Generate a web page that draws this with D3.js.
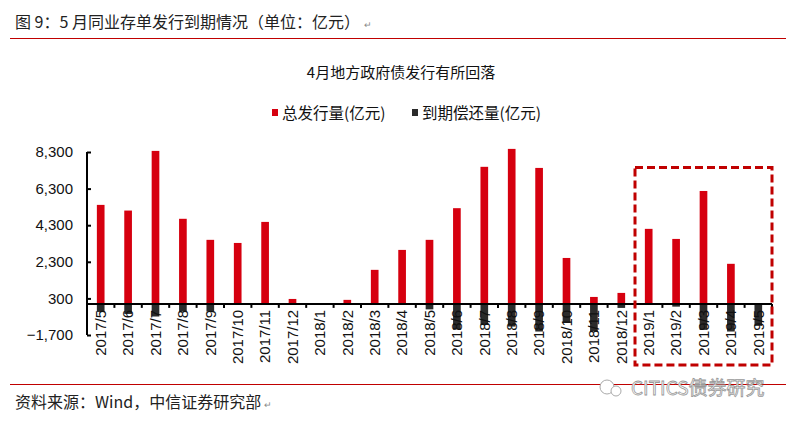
<!DOCTYPE html>
<html>
<head>
<meta charset="utf-8">
<script src="https://cdn.jsdelivr.net/npm/d3@7"></script>
<style>
  body { margin: 0; background: #fff; }
  svg { display: block; font-family: "Liberation Sans", Arial, "Noto Sans CJK SC", sans-serif; }
</style>
</head>
<body>
<svg width="796" height="422"></svg>
<script>
// Data
const months = ["2017/5", "2017/6", "2017/7", "2017/8", "2017/9", "2017/10", "2017/11", "2017/12",
  "2018/1", "2018/2", "2018/3", "2018/4", "2018/5", "2018/6", "2018/7", "2018/8", "2018/9",
  "2018/10", "2018/11", "2018/12", "2019/1", "2019/2", "2019/3", "2019/4", "2019/5"];
const issuance = [5410, 5100, 8360, 4650, 3500, 3330, 4480, 270,
  0, 220, 1860, 2950, 3500, 5230, 7490, 8470, 7430,
  2510, 380, 600, 4100, 3550, 6170, 2190, 0];
const maturity = [-440, -550, -690, -420, -420, 0, 0, 0,
  0, 0, 0, 0, -300, -1400, -1150, -1240, -1510,
  -1040, -1500, -220, 0, -150, -1420, -1510, -1200];
const yTicks = [-1700, 300, 2300, 4300, 6300, 8300];
const seriesNames = ["总发行量(亿元)", "到期偿还量(亿元)"];
const highlight = ["2019/1", "2019/5"];

const svg = d3.select("svg");
const red = "#d6000f";
const dark = "#2b2b2b";
const cjk = "'Noto Sans CJK SC', 'Liberation Sans', sans-serif";

// header / footer
const header = svg.append("text")
    .attr("x", 15).attr("y", 28)
    .attr("font-family", cjk).attr("font-size", 16).attr("fill", "#222")
    .text("图 9：5 月同业存单发行到期情况（单位：亿元）");
svg.append("text")
    .attr("x", 15 + header.node().getComputedTextLength() + 4).attr("y", 28)
    .attr("font-size", 9).attr("fill", "#888")
    .text("↵");
svg.append("line")
    .attr("x1", 10).attr("x2", 786).attr("y1", 38.5).attr("y2", 38.5)
    .attr("stroke", "#c00000").attr("stroke-width", 1);
svg.append("line")
    .attr("x1", 10).attr("x2", 786).attr("y1", 384.5).attr("y2", 384.5)
    .attr("stroke", "#c00000").attr("stroke-width", 1);
const footer = svg.append("text")
    .attr("x", 15).attr("y", 408)
    .attr("font-family", cjk).attr("font-size", 16).attr("fill", "#222")
    .text("资料来源：Wind，中信证券研究部");
svg.append("text")
    .attr("x", 15 + footer.node().getComputedTextLength() + 3).attr("y", 408)
    .attr("font-size", 9).attr("fill", "#888")
    .text("↵");

// watermark
const wm = svg.append("g").attr("transform", "translate(607,387)");
wm.append("circle").attr("cx", 0).attr("cy", 0).attr("r", 7)
    .attr("fill", "#fff").attr("stroke", "#aaa");
wm.append("circle").attr("cx", 9).attr("cy", 4).attr("r", 5)
    .attr("fill", "#fff").attr("stroke", "#aaa");
wm.append("text")
    .attr("x", 24).attr("y", 8)
    .attr("font-family", cjk).attr("font-size", 19)
    .attr("fill", "#fff").attr("stroke", "#999").attr("stroke-width", 0.8)
    .text("CITICS债券研究");

// chart title + legend
svg.append("text")
    .attr("x", 401).attr("y", 78)
    .attr("text-anchor", "middle")
    .attr("font-family", cjk).attr("font-size", 15).attr("fill", "#111")
    .text("4月地方政府债发行有所回落");

const legend = svg.append("g");
const legendX = [272, 412];
[red, dark].forEach((c, i) => {
    legend.append("rect")
        .attr("x", legendX[i]).attr("y", 109).attr("width", 6).attr("height", 7)
        .attr("fill", c);
    legend.append("text")
        .attr("x", legendX[i] + 10).attr("y", 119)
        .attr("font-family", cjk).attr("font-size", 15.5).attr("fill", "#111")
        .text(seriesNames[i]);
});

// scales
const x = d3.scaleBand().domain(months).range([87, 772]).paddingInner(0.72).paddingOuter(0.36);
const band = d3.scaleBand().domain(months).range([87, 772]);
const y = d3.scaleLinear().domain([-1700, 8300]).range([335, 152]);

// bars
svg.append("g")
    .selectAll("rect")
    .data(issuance.map((v, i) => ({ m: months[i], v })))
    .enter()
    .append("rect")
    .attr("x", (d) => x(d.m))
    .attr("width", x.bandwidth())
    .attr("y", (d) => y(Math.max(0, d.v)))
    .attr("height", (d) => Math.abs(y(d.v) - y(0)))
    .attr("fill", red);

svg.append("g")
    .selectAll("rect")
    .data(maturity.map((v, i) => ({ m: months[i], v })))
    .enter()
    .append("rect")
    .attr("x", (d) => x(d.m))
    .attr("width", x.bandwidth())
    .attr("y", (d) => y(Math.max(0, d.v)))
    .attr("height", (d) => Math.abs(y(d.v) - y(0)))
    .attr("fill", dark);

// y axis
const yAxis = svg.append("g")
    .attr("transform", "translate(87,0)")
    .call(d3.axisRight(y).tickValues(yTicks).tickSize(4).tickFormat(""));
yAxis.select(".domain").attr("stroke", "#000").attr("stroke-width", 2)
    .attr("d", "M0," + y(8300) + "V" + y(-1700));
yAxis.selectAll(".tick line").attr("stroke", "#000").attr("stroke-width", 2);

svg.append("g")
    .selectAll("text")
    .data(yTicks)
    .enter()
    .append("text")
    .attr("x", 73)
    .attr("y", (d) => y(d))
    .attr("dy", "0.35em")
    .attr("text-anchor", "end")
    .attr("font-size", 15)
    .attr("fill", "#111")
    .text(d3.format(","));

// x axis at zero
const boundaries = months.map((m) => band(m)).concat([772]);
const xAxis = svg.append("g");
xAxis.append("line")
    .attr("x1", 87).attr("x2", 772).attr("y1", y(0)).attr("y2", y(0))
    .attr("stroke", "#000").attr("stroke-width", 2);
xAxis.selectAll(".tk")
    .data(boundaries)
    .enter()
    .append("line")
    .attr("x1", (d) => d).attr("x2", (d) => d)
    .attr("y1", y(0)).attr("y2", y(0) + 4)
    .attr("stroke", "#000").attr("stroke-width", 2);

svg.append("g")
    .selectAll("text")
    .data(months)
    .enter()
    .append("text")
    .attr("transform", (d) => "translate(" + (band(d) + band.bandwidth() / 2) + "," + (y(0) + 6) + ") rotate(-90)")
    .attr("dy", "0.35em")
    .attr("text-anchor", "end")
    .attr("font-size", 15)
    .attr("fill", "#111")
    .text((d) => d);

// highlight box for 2019
const bx0 = band(highlight[0]);
const bx1 = band(highlight[1]) + band.bandwidth();
svg.append("rect")
    .attr("x", bx0).attr("y", y(7450))
    .attr("width", bx1 - bx0).attr("height", y(-1700) + 30 - y(7450))
    .attr("fill", "none")
    .attr("stroke", "#c00000").attr("stroke-width", 3)
    .attr("stroke-dasharray", "8,4");
</script>
</body>
</html>
